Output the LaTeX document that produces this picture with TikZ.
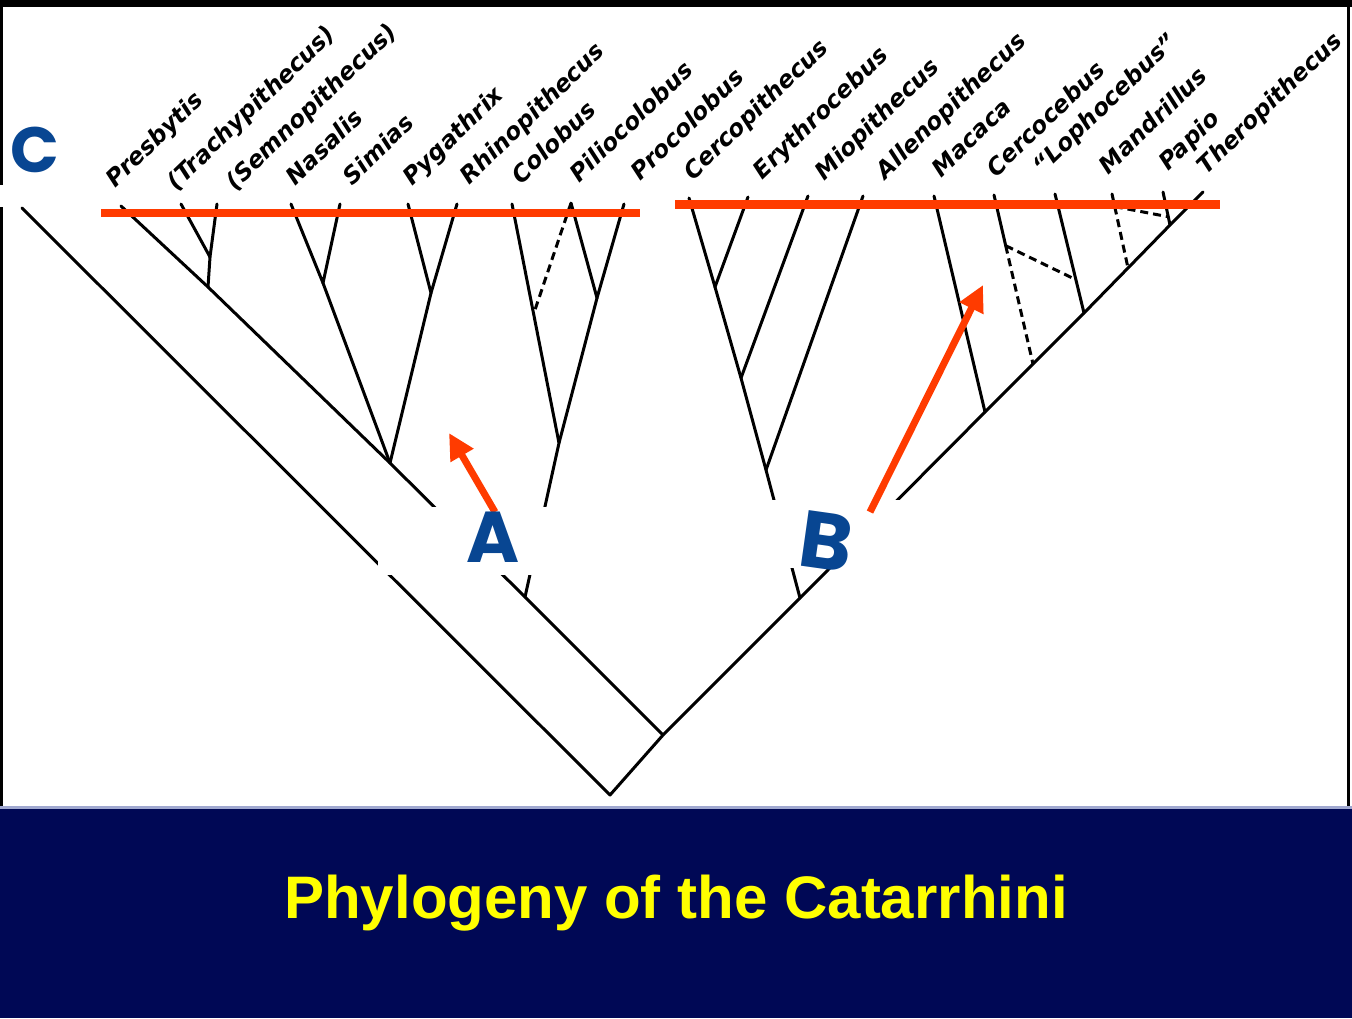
\documentclass[tikz,border=0pt]{standalone}
\usepackage{fontspec}
\setmainfont{Liberation Sans}
\newfontfamily\labelfont{DejaVu Sans}
\newfontfamily\handfont{Poppins}
\usetikzlibrary{calc,arrows.meta}

\definecolor{barred}{RGB}{255,59,0}
\definecolor{penblue}{RGB}{8,70,146}
\definecolor{slidenavy}{RGB}{0,8,85}
\definecolor{titleyellow}{RGB}{255,255,0}
\definecolor{bandline}{RGB}{160,168,208}

\tikzset{
  taxon/.style={rotate=44, anchor=base west, inner sep=0pt, xshift=3.5pt, yshift=-1.5pt,
    font=\labelfont\fontsize{11.8}{11.8}\selectfont\bfseries\itshape},
  branch/.style={line width=1.5pt, line cap=round, line join=round},
  link/.style={line width=1.5pt, dash pattern=on 4pt off 2.5pt},
  letter/.style={text=penblue, inner sep=0pt, font=\handfont\bfseries},
  pointer/.style={line width=3.5pt, draw=barred, -{Triangle[length=13pt,width=12.5pt]}},
}

\begin{document}
\begin{tikzpicture}[x=0.5pt,y=-0.5pt]
\useasboundingbox (0,0) rectangle (1352,1018);
\fill[white] (0,0) rectangle (1352,1018);
% frame and title band
\fill[black] (0,0) rectangle (1352,7);
\fill[black] (0,7) rectangle (3,185);
\fill[black] (0,207) rectangle (3,806);
\fill[black] (1347,7) rectangle (1350,806);
\fill[bandline] (0,806) rectangle (1352,809);
\fill[slidenavy] (0,809) rectangle (1352,1018);
\node (title) at (676,918) [anchor=base, text=titleyellow,
  font=\fontsize{30}{30}\selectfont\bfseries] {Phylogeny of the Catarrhini};

% junctions and tips
\coordinate (root) at (610,795);
\coordinate (cTip) at (22,208);
\coordinate (split) at (663,735);
\coordinate (s1) at (525,597);
\coordinate (s2) at (390,463);
\coordinate (s3) at (208,287);
\coordinate (tPres) at (121,206);
\coordinate (tTrac) at (181,204);
\coordinate (tSemn) at (217,204);
\coordinate (jTS) at (210,257);
\coordinate (tNasa) at (291,204);
\coordinate (tSimi) at (340,204);
\coordinate (jNS) at (323,283);
\coordinate (tPyga) at (408,204);
\coordinate (tRhin) at (457,204);
\coordinate (jPR) at (431,293);
\coordinate (tColo) at (512,204);
\coordinate (jCol) at (559,443);
\coordinate (tPili) at (571,203);
\coordinate (tProc) at (624,204);
\coordinate (jPP) at (597,298);

\coordinate (b1) at (800,598);
\coordinate (b2) at (985,412);
\coordinate (b3) at (1033,364);
\coordinate (b4) at (1084,313);
\coordinate (b5) at (1128,268);
\coordinate (b6) at (1170,225);
\coordinate (tTher) at (1203,192);
\coordinate (tCerp) at (689,198);
\coordinate (tEryt) at (748,197);
\coordinate (jCE) at (715,287);
\coordinate (tMiop) at (808,196);
\coordinate (jM) at (741,378);
\coordinate (tAlle) at (863,196);
\coordinate (jA) at (766,470);
\coordinate (tMaca) at (934,196);
\coordinate (tCerc) at (994,195);
\coordinate (tLoph) at (1055,194);
\coordinate (tMand) at (1112,194);
\coordinate (tPapi) at (1163,192);
\coordinate (cc1) at ($(tCerc)!0.3!(b3)$);
\coordinate (lo1) at ($(tLoph)!0.72!(b4)$);
\coordinate (md1) at ($(tMand)!0.17!(b5)$);
\coordinate (pa1) at ($(tPapi)!0.75!(b6)$);
\coordinate (co1) at ($(tColo)!0.46!(jCol)$);

% Colobinae
\draw[branch] (cTip) -- (root) -- (split) -- (s1) -- (s2) -- (s3) -- (tPres);
\draw[branch] (tTrac) -- (jTS) -- (tSemn);
\draw[branch] (jTS) -- (s3);
\draw[branch] (tNasa) -- (jNS) -- (tSimi);
\draw[branch] (jNS) -- (s2);
\draw[branch] (tPyga) -- (jPR) -- (tRhin);
\draw[branch] (jPR) -- (s2);
\draw[branch] (tColo) -- (jCol) -- (s1);
\draw[branch] (tPili) -- (jPP) -- (tProc);
\draw[branch] (jPP) -- (jCol);
\draw[link] (tPili) -- (co1);

% Cercopithecinae
\draw[branch] (split) -- (b1) -- (b2) -- (b3) -- (b4) -- (b5) -- (b6) -- (tTher);
\draw[branch] (tCerp) -- (jCE) -- (tEryt);
\draw[branch] (jCE) -- (jM) -- (jA) -- (b1);
\draw[branch] (tMiop) -- (jM);
\draw[branch] (tAlle) -- (jA);
\draw[branch] (tMaca) -- (b2);
\draw[branch] (tCerc) -- (cc1);
\draw[link] (cc1) -- (b3);
\draw[link] (cc1) -- (lo1);
\draw[branch] (tLoph) -- (b4);
\draw[branch] (tMand) -- (md1);
\draw[link] (md1) -- (b5);
\draw[link] (md1) -- (pa1);
\draw[branch] (tPapi) -- (b6);

% genus names
\node (presbytis) at (108,191) [taxon] {Presbytis};
\node (trachy) at (169,194) [taxon] {(Trachypithecus)};
\node (semno) at (228,194) [taxon] {(Semnopithecus)};
\node (nasalis) at (288,189) [taxon] {Nasalis};
\node (simias) at (345,189) [taxon] {Simias};
\node (pygathrix) at (405,189) [taxon] {Pygathrix};
\node (rhino) at (462,188) [taxon] {Rhinopithecus};
\node (colobus) at (514,188) [taxon] {Colobus};
\node (pilio) at (572,186) [taxon] {Piliocolobus};
\node (proco) at (633,184) [taxon] {Procolobus};
\node (cercopith) at (686,184) [taxon] {Cercopithecus};
\node (erythro) at (755,183) [taxon] {Erythrocebus};
\node (miopith) at (817,184) [taxon] {Miopithecus};
\node (allenop) at (878,183) [taxon] {Allenopithecus};
\node (macaca) at (934,181) [taxon] {Macaca};
\node (cercoceb) at (989,181) [taxon] {Cercocebus};
\node (lophoceb) at (1035,178) [taxon] {“Lophocebus”};
\node (mandrill) at (1101,178) [taxon] {Mandrillus};
\node (papio) at (1161,174) [taxon] {Papio};
\node (therop) at (1199,178) [taxon] {Theropithecus};

% white patches under the letters
\fill[white] (378,507) rectangle (560,575);
\fill[white] (770,500) rectangle (905,568);

% red bars
\fill[barred] (101,209) rectangle (640,217);
\fill[barred] (675,200) rectangle (1220,209);

% arrows and letters
\coordinate (aTail) at (495,512);
\coordinate (aHead) at (449,433);
\coordinate (bTail) at (870,512);
\coordinate (bHead) at (983,285);
\draw[pointer] (aTail) -- (aHead);
\draw[pointer] (bTail) -- (bHead);
\node (letterC) at (35,150) [letter, font=\fontsize{32}{32}\selectfont\handfont\bfseries] {C};
\node (letterA) at (493,537) [letter, font=\fontsize{36}{36}\selectfont\handfont\bfseries] {A};
\node (letterB) at (826,541) [letter, rotate=-8, font=\fontsize{40}{40}\selectfont\handfont\bfseries] {B};
\end{tikzpicture}
\end{document}
